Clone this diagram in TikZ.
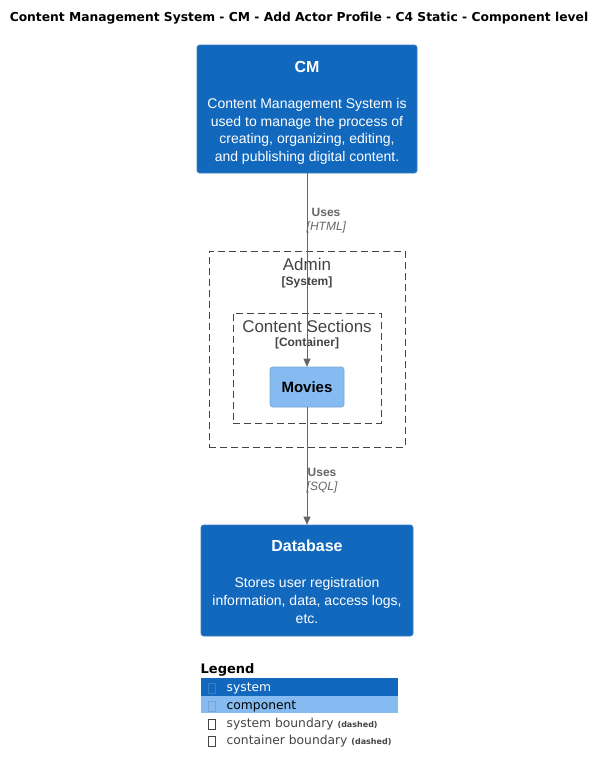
\documentclass[tikz,border=0pt]{standalone}
\usepackage{fontspec}
\setmainfont{Liberation Sans}
\newfontfamily\legfont{DejaVu Sans}
\usetikzlibrary{arrows.meta}
\definecolor{sysblue}{HTML}{1168BD}
\definecolor{sysborder}{HTML}{3C7FC0}
\definecolor{compblue}{HTML}{85BBF0}
\definecolor{compborder}{HTML}{78A8D8}
\definecolor{bndgray}{HTML}{444444}
\definecolor{relgray}{HTML}{666666}
\tikzset{
  sysbox/.style={draw=sysborder, fill=sysblue, rounded corners=2.5pt, inner sep=0pt, line width=0.6pt},
  compbox/.style={draw=compborder, fill=compblue, rounded corners=2.5pt, inner sep=0pt, line width=0.6pt},
  bndbox/.style={draw=bndgray, dash pattern=on 7pt off 4pt, inner sep=0pt, line width=0.8pt},
  ttl/.style={inner sep=0pt, font=\fontsize{16}{19}\selectfont\bfseries},
  desc/.style={inner sep=0pt, align=center, font=\fontsize{14}{17.6}\selectfont},
  bndname/.style={inner sep=0pt, text=bndgray, font=\fontsize{17}{19}\selectfont},
  bndtype/.style={inner sep=0pt, text=bndgray, font=\fontsize{12}{14}\selectfont\bfseries},
  rel/.style={draw=relgray, line width=0.8pt, -{Triangle[length=8pt,width=7pt]}},
  relname/.style={inner sep=0pt, anchor=west, text=relgray, font=\fontsize{12}{14}\selectfont\bfseries},
  reltech/.style={inner sep=0pt, anchor=west, text=relgray, font=\fontsize{12}{14}\selectfont\itshape},
  legtxt/.style={inner sep=0pt, anchor=west, font=\legfont\fontsize{12.3}{14}\selectfont},
  glyph/.style={draw, line width=0.5pt, minimum width=7pt, minimum height=10pt, inner sep=0pt},
}
\begin{document}
\begin{tikzpicture}[x=1pt,y=-1pt]
\useasboundingbox (0,0) rectangle (606,774);
\fill[white] (0,0) rectangle (606,774);

% title
\node[inner sep=0pt, font=\legfont\fontsize{12.3}{14}\selectfont\bfseries] (title) at (299,18)
  {Content Management System - CM - Add Actor Profile - C4 Static - Component level};

% CM
\node[sysbox, minimum width=220pt, minimum height=128pt] (cm) at (307,109) {};
\node[ttl, text=white] (cmtitle) at (307,67) {CM};
\node[desc, text=white] (cmdesc) at (307,131.5)
  {Content Management System is\\used to manage the process of\\creating, organizing, editing,\\and publishing digital content.};

% Admin boundary
\node[bndbox, minimum width=196pt, minimum height=196pt] (admin) at (307,349) {};
\node[bndname] (admintitle) at (307,264.5) {Admin};
\node[bndtype] (admintype) at (307,282.5) {[System]};

% Content Sections boundary
\node[bndbox, minimum width=148pt, minimum height=110pt] (sections) at (307,368) {};
\node[bndname] (sectionstitle) at (307,326.5) {Content Sections};
\node[bndtype] (sectionstype) at (307,343.5) {[Container]};

% Movies
\node[compbox, minimum width=74pt, minimum height=40pt, font=\fontsize{15}{18}\selectfont\bfseries] (movies) at (307,387) {Movies};

% Database
\node[sysbox, minimum width=212pt, minimum height=111pt] (db) at (307,580.5) {};
\node[ttl, text=white] (dbtitle) at (307,546) {Database};
\node[desc, text=white] (dbdesc) at (307,600.5)
  {Stores user registration\\information, data, access logs,\\etc.};

% relations
\draw[rel] (cm.south) -- (movies.north);
\node[relname] (uses1) at (311.5,212.5) {Uses};
\node[reltech] (tech1) at (306.5,227.5) {[HTML]};
\draw[rel] (movies.south) -- (db.north);
\node[relname] (uses2) at (307.5,472.5) {Uses};
\node[reltech] (tech2) at (306.5,487.5) {[SQL]};

% legend
\node[inner sep=0pt, anchor=west, font=\legfont\fontsize{13}{15}\selectfont\bfseries] (legend) at (200.5,670) {Legend};
\fill[sysblue] (201,678) rectangle (398,695.5);
\fill[compblue] (201,695.5) rectangle (398,713);
\node[glyph, draw=sysborder] (g1) at (212,688) {};
\node[legtxt, text=white] (l1) at (226.5,688.5) {system};
\node[glyph, draw=compborder!90!gray] (g2) at (212,706) {};
\node[legtxt, text=black] (l2) at (226.5,706.5) {component};
\node[glyph, draw=bndgray] (g3) at (212,724.5) {};
\node[legtxt, text=bndgray] (l3) at (226.5,724) {system boundary \textbf{\fontsize{8}{10}\selectfont(dashed)}};
\node[glyph, draw=bndgray] (g4) at (212,741.5) {};
\node[legtxt, text=bndgray] (l4) at (226.5,741) {container boundary \textbf{\fontsize{8}{10}\selectfont(dashed)}};
\end{tikzpicture}
\end{document}
